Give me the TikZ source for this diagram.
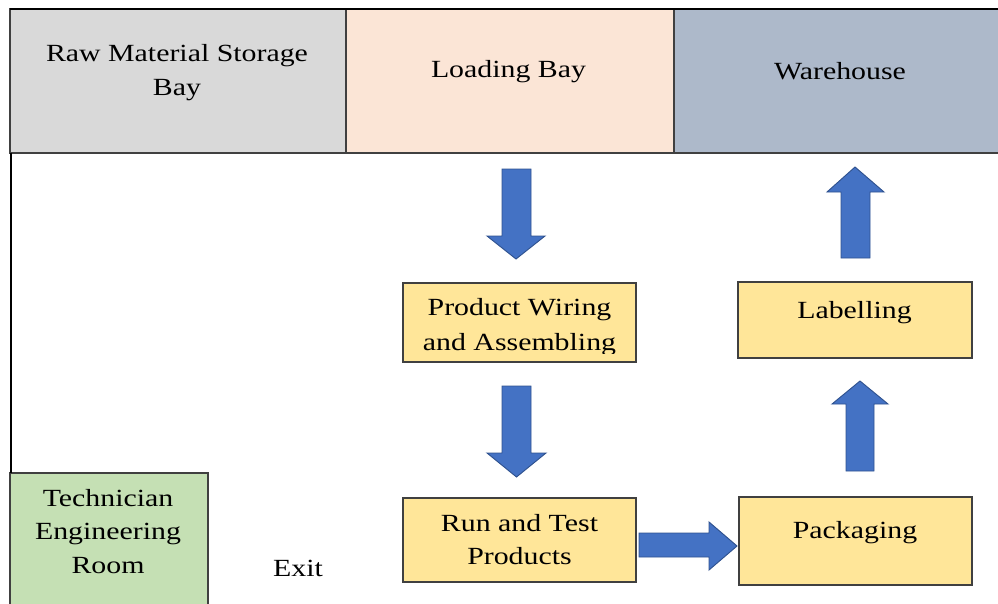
\documentclass[tikz,border=0pt]{standalone}
\usepackage{fontspec}
\setmainfont[FakeStretch=1.21]{Liberation Serif}
\definecolor{rawgrey}{HTML}{D9D9D9}
\definecolor{loadpeach}{HTML}{FBE5D6}
\definecolor{wareblue}{HTML}{ADB9CA}
\definecolor{techgreen}{HTML}{C5E0B4}
\definecolor{stepyellow}{HTML}{FFE699}
\definecolor{arrowfill}{HTML}{4472C4}
\definecolor{arrowedge}{HTML}{2F528F}
\definecolor{edgegrey}{HTML}{404040}
\begin{document}
\begin{tikzpicture}[x=0.75pt,y=-0.75pt,
  room/.style={draw=edgegrey,line width=0.9pt,anchor=north west,inner sep=0pt,outer sep=0pt},
  stepbox/.style={room,fill=stepyellow},
  label/.style={inner sep=0pt,anchor=north,align=center,text=black,
    font=\fontsize{18.5}{25.5}\selectfont},
  blockarrow/.style={fill=arrowfill,draw=arrowedge,line width=0.7pt,line join=miter}]
\useasboundingbox (0,0) rectangle (998,603);

% rooms along the top wall
\node[room,fill=rawgrey,minimum width=252pt,minimum height=108pt] (raw) at (10,9) {};
\node[room,fill=loadpeach,minimum width=246pt,minimum height=108pt] (load) at (346,9) {};
\node[room,fill=wareblue,minimum width=246pt,minimum height=108pt] (ware) at (674,9) {};
\draw[line width=1.6pt,black] (raw.north west) -- (998,9);

% left wall and the engineering room
\node[room,fill=techgreen,minimum width=148.5pt,minimum height=99pt] (tech) at (10,473) {};
\draw[line width=1.6pt,black] (11,153) -- (tech.north west -| 11,0);

% process steps
\node[stepbox,minimum width=174.75pt,minimum height=59.25pt] (wire) at (403,283) {};
\node[stepbox,minimum width=174.75pt,minimum height=63pt] (run) at (403,498) {};
\node[stepbox,minimum width=174.75pt,minimum height=66pt] (pack) at (739,497) {};
\node[stepbox,minimum width=175.5pt,minimum height=57pt] (lab) at (738,282) {};

% texts
\node[label] (rawt) at (177,44.5) {Raw Material Storage\\Bay};
\node[label] (loadt) at (508.5,60.5) {Loading Bay};
\node[label] (waret) at (840,62) {Warehouse};
\node[label,font=\fontsize{18.5}{25}\selectfont] (techt) at (108,489) {Technician\\Engineering\\Room};
\node[label] (exitt) at (298,559.5) {Exit};
\begin{scope}
  \clip (403,283) rectangle (636,353);
  \node[label,font=\fontsize{18.5}{26.25}\selectfont] (wiret) at (519.5,298) {Product Wiring\\and Assembling};
\end{scope}
\node[label,font=\fontsize{18.5}{24.5}\selectfont] (runt) at (519.5,514) {Run and Test\\Products};
\node[label] (packt) at (855,521) {Packaging};
\node[label] (labt) at (854.5,301) {Labelling};

% block arrows of the flow
% loading bay -> wiring
\draw[blockarrow] (502,169) -- (531,169) -- (531,236) -- (545,236) -- (516,259)
  -- (487,236) -- (502,236) -- cycle;
% wiring -> run and test
\draw[blockarrow] (502,386) -- (531,386) -- (531,453) -- (546,453) -- (516.5,477)
  -- (487,453) -- (502,453) -- cycle;
% run and test -> packaging
\draw[blockarrow] (639,533) -- (709,533) -- (709,522) -- (737,546) -- (709,570)
  -- (709,557) -- (639,557) -- cycle;
% packaging -> labelling
\draw[blockarrow] (846,471) -- (874,471) -- (874,404) -- (888,404) -- (860,381)
  -- (832,404) -- (846,404) -- cycle;
% labelling -> warehouse
\draw[blockarrow] (841,258) -- (870,258) -- (870,192) -- (884,192) -- (855,167)
  -- (827,192) -- (841,192) -- cycle;
\end{tikzpicture}
\end{document}
